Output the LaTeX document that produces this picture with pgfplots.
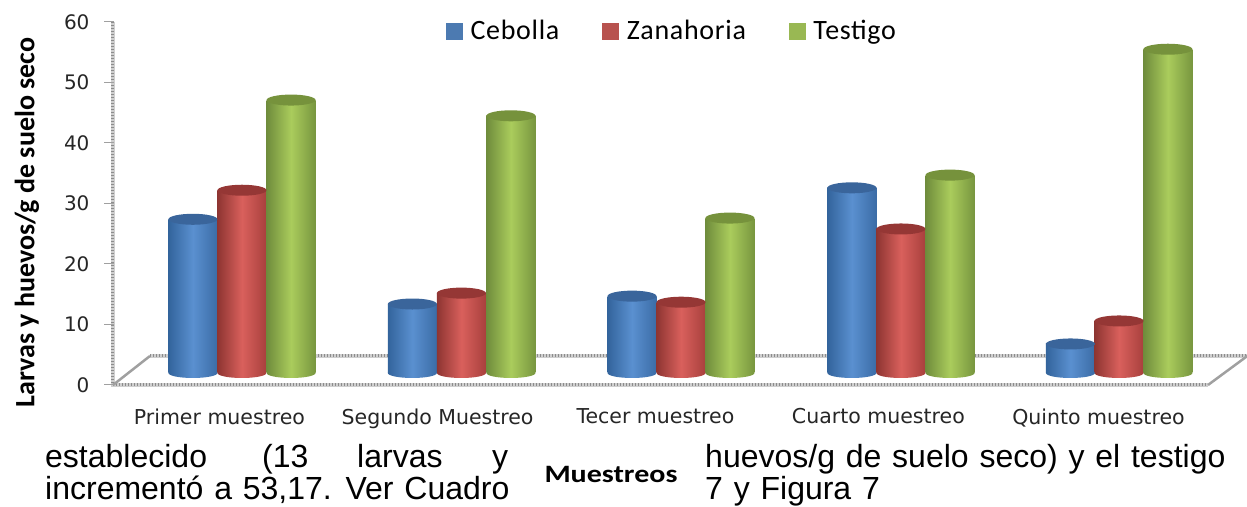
\documentclass[border=0pt]{standalone}
\usepackage{pgfplots}
\usepackage{fontspec}
\pgfplotsset{compat=1.18}
\setmainfont{DejaVu Sans}
\newfontfamily\arial{Liberation Sans}
\newfontfamily\carlito{Carlito}
\definecolor{gridg}{HTML}{A0A0A0}
\definecolor{gridl}{HTML}{CFCFCF}
\definecolor{gridd}{HTML}{8C8C8C}
\definecolor{bl}{HTML}{33649C}\definecolor{bm}{HTML}{5A90D0}\definecolor{br}{HTML}{3B6CA6}\definecolor{bc}{HTML}{3A659B}
\definecolor{rl}{HTML}{8E3532}\definecolor{rm}{HTML}{D9605C}\definecolor{rr}{HTML}{A8403D}\definecolor{rc}{HTML}{953735}
\definecolor{gl}{HTML}{6F8C3C}\definecolor{gm}{HTML}{AACC5C}\definecolor{gr}{HTML}{78963F}\definecolor{gc}{HTML}{76923C}
\tikzset{
 shb/.style={left color=bl,right color=br,middle color=bm,draw=none},
 shr/.style={left color=rl,right color=rr,middle color=rm,draw=none},
 shg/.style={left color=gl,right color=gr,middle color=gm,draw=none},
 wallbase/.style={draw=gridl,line width=3.5pt,mark=none,solid},
 walldots/.style={draw=gridd,line width=3pt,mark=none,dash pattern=on 1.2pt off 1.8pt}}
\pgfdeclareplotmark{captop}{\pgfpathellipse{\pgfpointorigin}{\pgfpoint{24.5pt}{0pt}}{\pgfpoint{0pt}{5.5pt}}\pgfusepathqfill}
\pgfdeclareplotmark{botb}{\path[shb] (0pt,0pt) ellipse [x radius=24.5pt,y radius=5pt];}
\pgfdeclareplotmark{botr}{\path[shr] (0pt,0pt) ellipse [x radius=24.5pt,y radius=5pt];}
\pgfdeclareplotmark{botg}{\path[shg] (0pt,0pt) ellipse [x radius=24.5pt,y radius=5pt];}
\newcommand\cyl[4]{% kind, x, value, cap colour
 \addplot[forget plot,only marks,mark=bot#1] coordinates {(#2,2)};
 \addplot[forget plot,ybar,bar width=49pt,bar shift=0pt,draw=none,sh#1] coordinates {(#2,#3)};
 \addplot[forget plot,only marks,mark=captop,mark options={fill=#4,draw=none}] coordinates {(#2,#3)};
}
\begin{document}
\begin{tikzpicture}[x=1pt,y=1pt]
\useasboundingbox (0,0) rectangle (1247,506);
\begin{axis}[
 at={(113pt,121pt)},anchor=south west,scale only axis,width=1095pt,height=363pt,
 xmin=0,xmax=5,ymin=0,ymax=60,clip=false,
 axis line style={draw=none},
 ytick={0,10,...,60},
 xtick={0.486,1.482,2.477,3.495,4.5},
 xticklabels={Primer muestreo,Segundo Muestreo,Tecer muestreo,Cuarto muestreo,Quinto muestreo},
 minor xtick={0,1,2,3,4,5},
 major tick length=0pt,
 minor tick length=6pt,
 xtick style={draw=none},
 ytick style={draw=none},
 minor tick style={draw=gridg,line width=1pt},
 tick align=outside,
 yticklabel style={font=\fontsize{20}{24}\selectfont,color=black!85,xshift=-20pt},
 xticklabel style={font=\fontsize{20.5}{24}\selectfont,color=black!85,yshift=-20pt},
 /pgf/number format/assume math mode=true,
 ylabel={Larvas y huevos/g de suelo seco},
 ylabel style={font=\carlito\bfseries\fontsize{28}{32}\selectfont,at={(axis description cs:0,0.5)},xshift=-19pt,yshift=86pt,anchor=center},
]
\addplot[forget plot,wallbase] coordinates {(0,60)(0,0)(5,0)};
\addplot[forget plot,walldots] coordinates {(0,60)(0,0)(5,0)};
\addplot[forget plot,wallbase] coordinates {(0.169,4.8)(5.18,4.8)};
\addplot[forget plot,walldots] coordinates {(0.169,4.8)(5.18,4.8)};
\addplot[forget plot,gridg,line width=2.5pt] coordinates {(0,0)(0.169,4.8)};
\addplot[forget plot,gridg,line width=2.5pt] coordinates {(5.18,4.8)(5,0)};
\addplot[forget plot,gridg,line width=1pt,only marks,mark=-,mark size=5pt] coordinates {(-0.02,0)(-0.02,10)(-0.02,20)(-0.02,30)(-0.02,40)(-0.02,50)(-0.02,60)};
\end{axis}
\begin{axis}[
 at={(113pt,133pt)},anchor=south west,scale only axis,width=1095pt,height=351pt,
 xmin=0,xmax=5,ymin=2,ymax=60,clip=false,
 axis lines=none,
 legend style={at={(330pt,342pt)},anchor=west,draw=none,fill=none,legend columns=-1,
   font=\carlito\addfontfeature{LetterSpace=2.5}\fontsize{28}{32}\selectfont,
   /tikz/every even column/.append style={column sep=39pt},
   /tikz/every odd column/.append style={column sep=4pt},
   nodes={inner xsep=4pt,inner ysep=0pt}},
 legend cell align=left,
]
% Cebolla
\cyl{b}{0.365}{27.4}{bc}\cyl{b}{1.367}{13.4}{bc}\cyl{b}{2.370}{14.7}{bc}\cyl{b}{3.374}{32.6}{bc}\cyl{b}{4.372}{6.8}{bc}
% Zanahoria
\cyl{r}{0.589}{32.2}{rc}\cyl{r}{1.591}{15.2}{rc}\cyl{r}{2.594}{13.7}{rc}\cyl{r}{3.598}{25.8}{rc}\cyl{r}{4.594}{10.6}{rc}
% Testigo
\cyl{g}{0.813}{47.1}{gc}\cyl{g}{1.817}{44.5}{gc}\cyl{g}{2.817}{27.6}{gc}\cyl{g}{3.822}{34.7}{gc}\cyl{g}{4.817}{55.5}{gc}
\addlegendimage{legend image code/.code={\fill[bm!85!black] (0pt,-8pt) rectangle (16pt,8pt);}}
\addlegendentry{Cebolla}
\addlegendimage{legend image code/.code={\fill[rm!85!black] (0pt,-8pt) rectangle (16pt,8pt);}}
\addlegendentry{Zanahoria\hspace{7pt}}
\addlegendimage{legend image code/.code={\fill[gm!90!black] (0pt,-8pt) rectangle (16pt,8pt);}}
\addlegendentry{Testigo}
\end{axis}
\begin{scope}[every node/.style={inner sep=0pt,anchor=base west,font=\arial\fontsize{32}{36}\selectfont}]
\node at (45,39) {establecido};
\node at (262,39) {(13};
\node at (357,39) {larvas};
\node at (492,39) {y};
\node at (705,39) {\spaceskip=10.8pt huevos/g de suelo seco) y el testigo};
\node at (45,7) {\spaceskip=10.8pt incrementó a 53,17. Ver Cuadro};
\node at (705,7) {\spaceskip=10.8pt 7 y Figura 7};
\end{scope}
\node[font=\carlito\bfseries\fontsize{25}{30}\selectfont,anchor=center,xscale=1.2] at (611,32) {Muestreos};
\end{tikzpicture}
\end{document}
